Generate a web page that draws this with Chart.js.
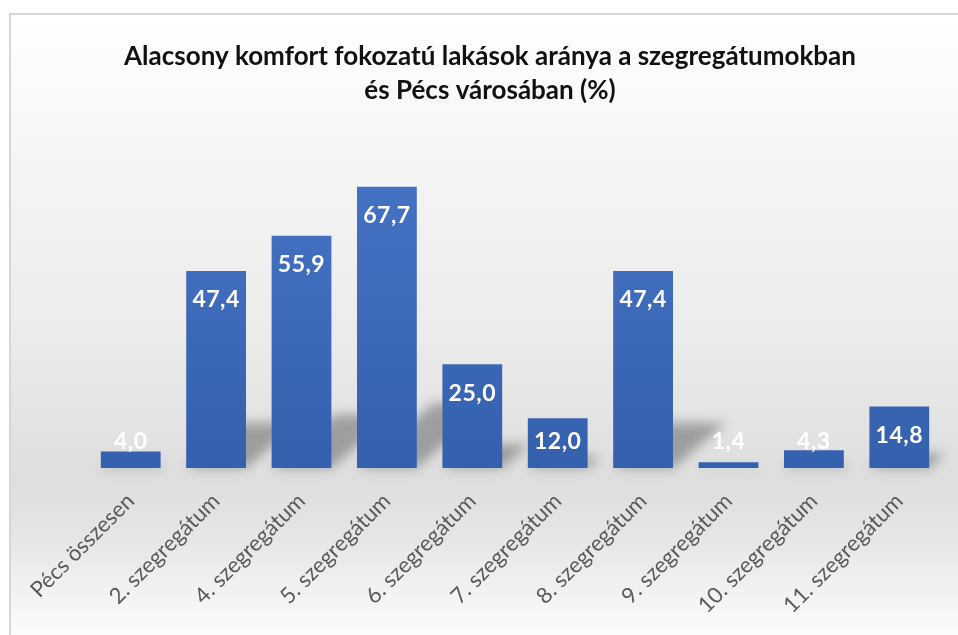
<!DOCTYPE html>
<html>
<head>
<meta charset="utf-8">
<script src="https://cdn.jsdelivr.net/npm/chart.js@4.4.1/dist/chart.umd.min.js"></script>
<style>
  html, body { margin: 0; padding: 0; background: #ffffff; width: 958px; height: 635px; overflow: hidden; }
  #frame {
    position: absolute; left: 9px; top: 13px; width: 960px; height: 640px;
    border-left: 2px solid #d6d6d6; border-top: 2px solid #d6d6d6;
    background: linear-gradient(to bottom, #ffffff 0%, #f5f5f5 22%, #ececec 48%, #dedede 73%, #e6e6e6 82%, #ffffff 99%);
  }
  canvas { position: absolute; left: 0; top: 0; }
</style>
</head>
<body>
<div id="frame"><canvas id="c" width="947" height="620"></canvas></div>
<script>
const categories = ["Pécs összesen", "2. szegregátum", "4. szegregátum", "5. szegregátum", "6. szegregátum",
                    "7. szegregátum", "8. szegregátum", "9. szegregátum", "10. szegregátum", "11. szegregátum"];
const values = [4.0, 47.4, 55.9, 67.7, 25.0, 12.0, 47.4, 1.4, 4.3, 14.8];
const titleLines = ["Alacsony komfort fokozatú lakások aránya a szegregátumokban", "és Pécs városában (%)"];
const yMin = 0;
const yMax = 80;

const fmt = v => v.toFixed(1).replace('.', ',');

const shadowPlugin = {
  id: 'perspectiveShadow',
  beforeDatasetsDraw(chart) {
    const ctx = chart.ctx;
    const meta = chart.getDatasetMeta(0);
    ctx.save();
    ctx.filter = 'blur(6px)';
    ctx.fillStyle = 'rgba(0,0,0,0.30)';
    meta.data.forEach(el => {
      const p = el.getProps(['x', 'y', 'base', 'width'], true);
      const h = p.base - p.y;
      const l = p.x - p.width / 2, r = p.x + p.width / 2;
      const dx = 0.27 * h, dy = 0.23 * h;
      ctx.beginPath();
      ctx.moveTo(l, p.base);
      ctx.lineTo(r, p.base);
      ctx.lineTo(r + dx, p.base - dy);
      ctx.lineTo(l + dx, p.base - dy);
      ctx.closePath();
      ctx.fill();
    });
    ctx.restore();
  }
};

const labelPlugin = {
  id: 'barValueLabels',
  afterDatasetsDraw(chart) {
    const ctx = chart.ctx;
    const meta = chart.getDatasetMeta(0);
    ctx.save();
    ctx.font = 'bold 23px Lato';
    ctx.letterSpacing = '0.5px';
    ctx.fillStyle = '#ffffff';
    ctx.textAlign = 'center';
    ctx.textBaseline = 'middle';
    meta.data.forEach((el, i) => {
      const p = el.getProps(['x', 'y', 'base'], true);
      const y = Math.min(p.y + 29, p.base - 26);
      ctx.fillText(fmt(values[i]), p.x, y);
    });
    ctx.restore();
  }
};

new Chart(document.getElementById('c'), {
  type: 'bar',
  data: {
    labels: categories,
    datasets: [{
      data: values,
      backgroundColor: (c) => {
        const area = c.chart.chartArea;
        if (!area) return '#4472c4';
        const g = c.chart.ctx.createLinearGradient(0, area.top, 0, area.bottom);
        g.addColorStop(0, '#4775c6');
        g.addColorStop(1, '#3460ad');
        return g;
      },
      borderWidth: 0,
      barPercentage: 0.70,
      categoryPercentage: 1.0
    }]
  },
  options: {
    responsive: false,
    animation: false,
    layout: { padding: { left: 27, right: 16, top: 25, bottom: 0 } },
    plugins: {
      legend: { display: false },
      tooltip: { enabled: false },
      title: {
        display: true,
        text: titleLines,
        color: '#111111',
        font: { family: 'Lato', size: 26, weight: 'bold', lineHeight: 1.3 },
        padding: { top: 0, bottom: 28 }
      }
    },
    scales: {
      x: {
        grid: { display: false },
        border: { display: false },
        ticks: {
          color: '#595959',
          font: { family: 'Lato', size: 22 },
          minRotation: 45, maxRotation: 45,
          autoSkip: false,
          padding: 12
        },
        afterFit(scale) { scale.height = 167; scale.paddingLeft = 0; scale.paddingRight = 0; }
      },
      y: {
        min: yMin, max: yMax,
        grid: { display: false },
        border: { display: false },
        ticks: { display: false },
        afterFit(scale) { scale.width = 50; }
      }
    }
  },
  plugins: [shadowPlugin, labelPlugin]
});
</script>
</body>
</html>
